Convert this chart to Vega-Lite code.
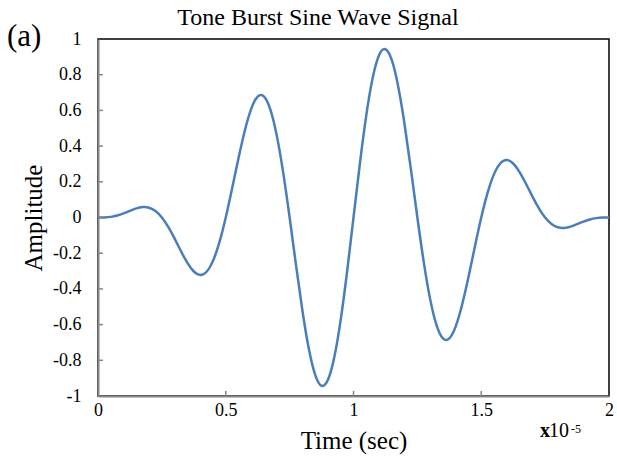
{
  "$schema": "https://vega.github.io/schema/vega-lite/v6.json",
  "width": 511,
  "height": 357,
  "autosize": {"type": "none"},
  "padding": {"left": 98, "top": 39, "right": 8, "bottom": 61},
  "background": "white",
  "config": {
    "view": {"stroke": "black", "strokeWidth": 1.5},
    "axis": {
      "grid": false,
      "ticks": false,
      "domainColor": "#868686",
      "domainWidth": 2,
      "labelFont": "Liberation Serif, serif",
      "labelFontSize": 18,
      "labelColor": "black",
      "labelFlush": false,
      "labelOverlap": false,
      "titleFont": "Liberation Serif, serif",
      "titleFontWeight": "normal",
      "titleColor": "black"
    }
  },
  "datasets": {
    "curve": [
      {"t": 0, "v": 0}, {"t": 0.025, "v": 0.0005}, {"t": 0.05, "v": 0.0035}, {"t": 0.075, "v": 0.011}, {"t": 0.1, "v": 0.0228},
      {"t": 0.125, "v": 0.0373}, {"t": 0.15, "v": 0.0508}, {"t": 0.175, "v": 0.0584}, {"t": 0.2, "v": 0.055}, {"t": 0.225, "v": 0.0363},
      {"t": 0.25, "v": 0}, {"t": 0.275, "v": -0.0531}, {"t": 0.3, "v": -0.1187}, {"t": 0.325, "v": -0.1893}, {"t": 0.35, "v": -0.2545},
      {"t": 0.375, "v": -0.3025}, {"t": 0.4, "v": -0.322}, {"t": 0.425, "v": -0.3039}, {"t": 0.45, "v": -0.243}, {"t": 0.475, "v": -0.1395},
      {"t": 0.5, "v": 0}, {"t": 0.525, "v": 0.1633}, {"t": 0.55, "v": 0.3331}, {"t": 0.575, "v": 0.489}, {"t": 0.6, "v": 0.6101},
      {"t": 0.625, "v": 0.6775}, {"t": 0.65, "v": 0.6776}, {"t": 0.675, "v": 0.6035}, {"t": 0.7, "v": 0.4573}, {"t": 0.725, "v": 0.2497},
      {"t": 0.75, "v": 0}, {"t": 0.775, "v": -0.2666}, {"t": 0.8, "v": -0.521}, {"t": 0.825, "v": -0.7344}, {"t": 0.85, "v": -0.8813},
      {"t": 0.875, "v": -0.9427}, {"t": 0.9, "v": -0.9093}, {"t": 0.925, "v": -0.7819}, {"t": 0.95, "v": -0.5725}, {"t": 0.975, "v": -0.3024},
      {"t": 1.0, "v": 0}, {"t": 1.025, "v": 0.3024}, {"t": 1.05, "v": 0.5725}, {"t": 1.075, "v": 0.7819}, {"t": 1.1, "v": 0.9093},
      {"t": 1.125, "v": 0.9427}, {"t": 1.15, "v": 0.8813}, {"t": 1.175, "v": 0.7344}, {"t": 1.2, "v": 0.521}, {"t": 1.225, "v": 0.2666},
      {"t": 1.25, "v": 0}, {"t": 1.275, "v": -0.2497}, {"t": 1.3, "v": -0.4573}, {"t": 1.325, "v": -0.6035}, {"t": 1.35, "v": -0.6776},
      {"t": 1.375, "v": -0.6775}, {"t": 1.4, "v": -0.6101}, {"t": 1.425, "v": -0.489}, {"t": 1.45, "v": -0.3331}, {"t": 1.475, "v": -0.1633},
      {"t": 1.5, "v": 0}, {"t": 1.525, "v": 0.1395}, {"t": 1.55, "v": 0.243}, {"t": 1.575, "v": 0.3039}, {"t": 1.6, "v": 0.322},
      {"t": 1.625, "v": 0.3025}, {"t": 1.65, "v": 0.2545}, {"t": 1.675, "v": 0.1893}, {"t": 1.7, "v": 0.1187}, {"t": 1.725, "v": 0.0531},
      {"t": 1.75, "v": 0}, {"t": 1.775, "v": -0.0363}, {"t": 1.8, "v": -0.055}, {"t": 1.825, "v": -0.0584}, {"t": 1.85, "v": -0.0508},
      {"t": 1.875, "v": -0.0373}, {"t": 1.9, "v": -0.0228}, {"t": 1.925, "v": -0.011}, {"t": 1.95, "v": -0.0035}, {"t": 1.975, "v": -0.0005},
      {"t": 2.0, "v": 0}
    ],
    "xticks": [{"tv": 0.5}, {"tv": 1}, {"tv": 1.5}],
    "yticks": [{"tv": -0.8}, {"tv": -0.6}, {"tv": -0.4}, {"tv": -0.2}, {"tv": 0}, {"tv": 0.2}, {"tv": 0.4}, {"tv": 0.6}, {"tv": 0.8}]
  },
  "layer": [
    {
      "data": {"name": "curve"},
      "mark": {"type": "line", "color": "#4a7ebb", "strokeWidth": 2.5, "interpolate": "natural"},
      "encoding": {
        "x": {"field": "t", "type": "quantitative", "scale": {"domain": [0, 2], "nice": false},
          "axis": {"title": "Time (sec)", "values": [0, 0.5, 1, 1.5, 2], "tickCount": 20, "labelExpr": "format(datum.value, '.1~f')",
            "labelOverlap": false, "labelFlush": false,
            "labelPadding": 5, "titleFontSize": 25, "titleBaseline": "alphabetic", "titleY": 52}},
        "y": {"field": "v", "type": "quantitative", "scale": {"domain": [-1, 1], "nice": false},
          "axis": {"title": "Amplitude", "values": [-1, -0.8, -0.6, -0.4, -0.2, 0, 0.2, 0.4, 0.6, 0.8, 1], "tickCount": 20,
            "labelExpr": "(datum.value < -0.0001 ? '-' : '') + format(abs(datum.value), '.1~f')",
            "labelOverlap": false, "labelFlush": false,
            "labelPadding": 17, "titleFontSize": 25, "titleBaseline": "alphabetic", "titleAngle": -90,
            "titleAlign": "center", "titleX": -57, "titleY": 178.5}}
      }
    },
    {
      "data": {"name": "xticks"},
      "mark": {"type": "rule", "color": "#868686", "strokeWidth": 1.5},
      "encoding": {"x": {"field": "tv", "type": "quantitative"}, "y": {"datum": -1}, "y2": {"datum": -0.972}}
    },
    {
      "data": {"name": "yticks"},
      "mark": {"type": "rule", "color": "#868686", "strokeWidth": 1.5},
      "encoding": {"y": {"field": "tv", "type": "quantitative"}, "x": {"datum": 0}, "x2": {"datum": 0.0196}}
    },
    {
      "data": {"values": [{}]},
      "mark": {"type": "text", "text": "Tone Burst Sine Wave Signal", "font": "Liberation Serif, serif", "fontSize": 24, "align": "center", "baseline": "alphabetic", "color": "black"},
      "encoding": {"x": {"datum": 0.861}, "y": {"datum": 1.078}}
    },
    {
      "data": {"values": [{}]},
      "mark": {"type": "text", "text": "(a)", "font": "Liberation Serif, serif", "fontSize": 31, "align": "left", "baseline": "alphabetic", "color": "black"},
      "encoding": {"x": {"datum": -0.356}, "y": {"datum": 0.961}}
    },
    {
      "data": {"values": [{}]},
      "mark": {"type": "text", "text": "x", "font": "Liberation Serif, serif", "fontSize": 20, "fontWeight": "bold", "align": "left", "baseline": "alphabetic", "color": "black"},
      "encoding": {"x": {"datum": 1.73}, "y": {"datum": -1.23}}
    },
    {
      "data": {"values": [{}]},
      "mark": {"type": "text", "text": "10", "font": "Liberation Serif, serif", "fontSize": 20, "align": "left", "baseline": "alphabetic", "color": "black"},
      "encoding": {"x": {"datum": 1.765}, "y": {"datum": -1.23}}
    },
    {
      "data": {"values": [{}]},
      "mark": {"type": "text", "text": "-5", "font": "Liberation Serif, serif", "fontSize": 12, "align": "left", "baseline": "alphabetic", "color": "black"},
      "encoding": {"x": {"datum": 1.851}, "y": {"datum": -1.21}}
    }
  ]
}
